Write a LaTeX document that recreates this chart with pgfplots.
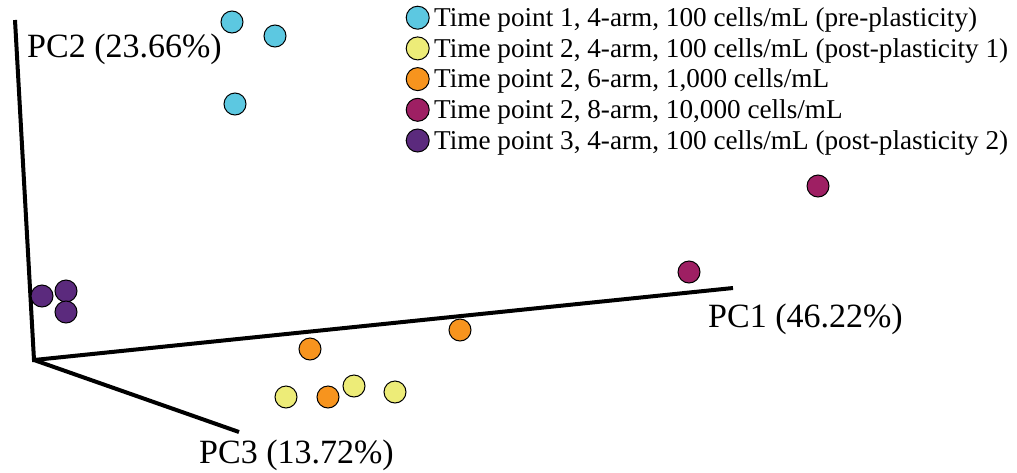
\documentclass[border=0pt]{standalone}
\usepackage{pgfplots}
\pgfplotsset{compat=1.18}
\usepackage{fontspec}
\setmainfont{Liberation Serif}
\definecolor{ccyan}{HTML}{5CC8E1}
\definecolor{cyell}{HTML}{EDEC78}
\definecolor{corange}{HTML}{F7941E}
\definecolor{cmag}{HTML}{9E1F63}
\definecolor{cpurp}{HTML}{5B2A7D}
\pgfplotsset{
  pt/.style={only marks, mark=*, mark size=11pt,
    mark options={line width=1pt, draw=black, fill=#1},
    legend image code/.code={\draw[##1,mark size=11.5pt] plot coordinates {(0pt,0pt)};}},
}
\begin{document}
\begin{tikzpicture}
\begin{axis}[
  scale only axis, width=1017pt, height=472pt,
  xmin=0, xmax=1017, ymin=0, ymax=472, y dir=reverse,
  axis lines=none, clip=false,
  legend cell align=left,
  legend style={at={(axis cs:403,4)}, anchor=north west, draw=none, fill=none,
    font=\fontsize{27.2}{30}\selectfont, row sep=7.7pt,
    nodes={inner xsep=5pt, inner ysep=0pt}},
]
\path (axis cs:0,0) rectangle (axis cs:1017,472);
\addplot[black, line width=4pt, forget plot, line join=miter] coordinates {(15,20) (34,360) (733,288)};
\addplot[black, line width=4pt, forget plot] coordinates {(34,360) (239,432)};

\addplot[pt=ccyan] coordinates {(232,22) (275,36) (235,104)};
\addlegendentry{Time point 1, 4-arm, 100 cells/mL (pre-plasticity)}
\addplot[pt=cyell] coordinates {(286,397) (354,386) (395,392)};
\addlegendentry{Time point 2, 4-arm, 100 cells/mL (post-plasticity 1)}
\addplot[pt=corange] coordinates {(310,349) (460,330) (328,397)};
\addlegendentry{Time point 2, 6-arm, 1,000 cells/mL}
\addplot[pt=cmag] coordinates {(818,186) (689,272)};
\addlegendentry{Time point 2, 8-arm, 10,000 cells/mL}
\addplot[pt=cpurp] coordinates {(42,296) (66,291) (66,312)};
\addlegendentry{Time point 3, 4-arm, 100 cells/mL (post-plasticity 2)}

\node[anchor=base west, font=\fontsize{34}{40}\selectfont, inner sep=0pt] at (axis cs:27,57) {PC2 (23.66\%)};
\node[anchor=base west, font=\fontsize{34}{40}\selectfont, inner sep=0pt] at (axis cs:708,327) {PC1 (46.22\%)};
\node[anchor=base west, font=\fontsize{34}{40}\selectfont, inner sep=0pt] at (axis cs:199,463) {PC3 (13.72\%)};
\end{axis}
\end{tikzpicture}
\end{document}
